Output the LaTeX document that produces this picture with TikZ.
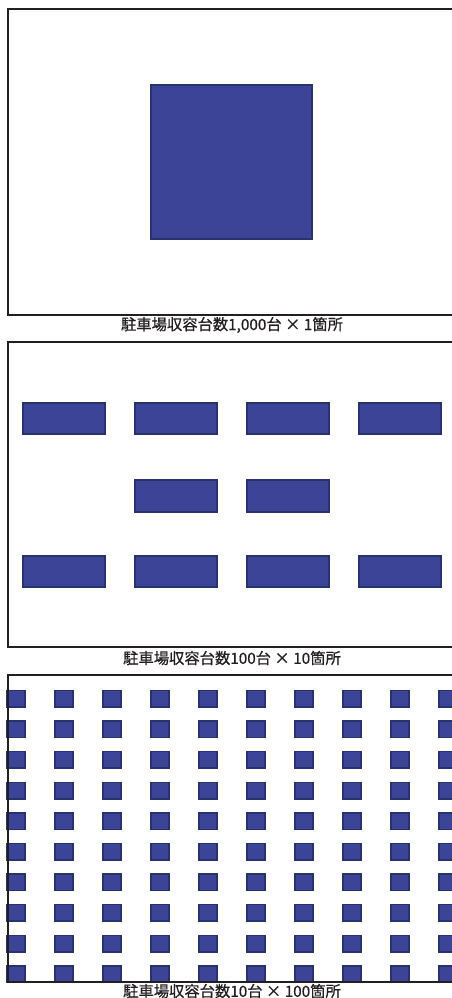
\documentclass[tikz,border=0pt]{standalone}
\usepackage{fontspec}
\newfontfamily\jpfont[FakeBold=0.6]{Noto Sans CJK JP}
\definecolor{lotfill}{HTML}{3C4498}
\definecolor{lotedge}{HTML}{27336A}
\definecolor{framecol}{HTML}{231F20}
\definecolor{captcol}{HTML}{231F20}
\begin{document}
\begin{tikzpicture}[x=1pt,y=-1pt,
  lot/.style={fill=lotfill,draw=lotedge,line width=1.5pt},
  frameline/.style={draw=framecol,line width=2pt},
  caption/.style={font=\jpfont\fontsize{15.3}{17}\selectfont,text=captcol,inner sep=0pt}]
\useasboundingbox (0,0) rectangle (452,998);
\fill[white] (0,0) rectangle (452,998);
\clip (0,0) rectangle (452,998);
% panel 1
\draw[lot] (151,85) rectangle (312,239);
\draw[frameline] (460,9) -- (8,9) -- (8,315) -- (460,315);
\node[caption] (c1) at (232,325) {駐車場収容台数1,000台 × 1箇所};
% panel 2
\foreach \x in {23,135,247,359} {
  \draw[lot] (\x,403) rectangle ++(82,31);
  \draw[lot] (\x,556) rectangle ++(82,31);
}
\foreach \x in {135,247} {
  \draw[lot] (\x,480) rectangle ++(82,32);
}
\draw[frameline] (460,342) -- (8,342) -- (8,647) -- (460,647);
\node[caption] (c2) at (232,658) {駐車場収容台数100台 × 10箇所};
% panel 3
\foreach \i in {0,...,9} {
  \foreach \j in {0,...,9} {
    \draw[lot] (7+48*\i,690.5+30.6*\j) rectangle ++(18,16.5);
  }
}
\draw[frameline] (460,675) -- (8,675) -- (8,982) -- (460,982);
\node[caption] (c3) at (232,991) {駐車場収容台数10台 × 100箇所};
\end{tikzpicture}
\end{document}
